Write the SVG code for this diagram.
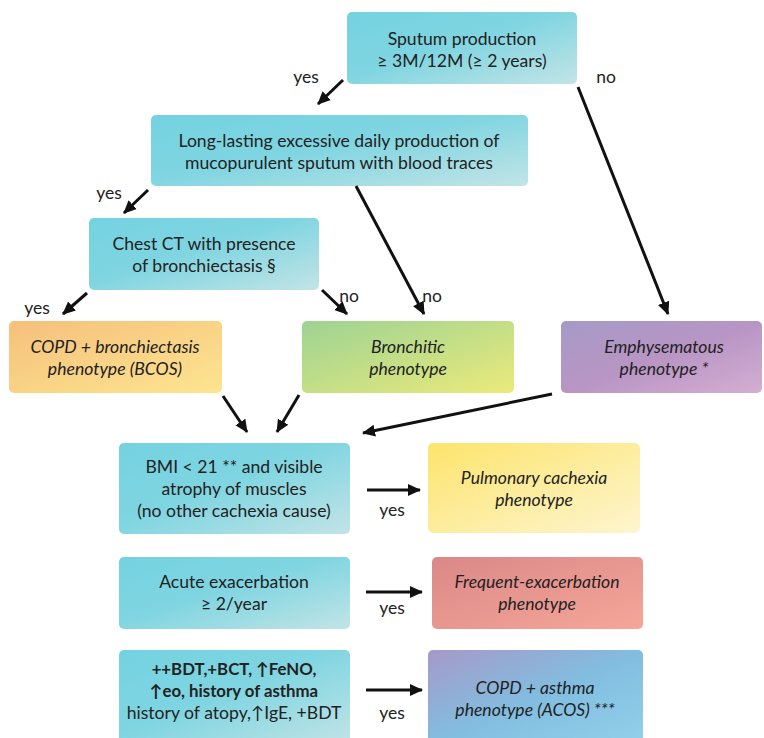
<svg xmlns="http://www.w3.org/2000/svg" width="764" height="738" viewBox="0 0 764 738">
<style>
.t{font-family:Lato,"Open Sans","Liberation Sans",sans-serif;font-size:17.6px;fill:#222;text-anchor:middle}
.i{font-style:italic}
.b{font-weight:bold;font-size:16.8px}
.lbl{font-family:Lato,"Open Sans","Liberation Sans",sans-serif;font-size:17.5px;fill:#222;text-anchor:middle}
.c{stroke:#111;stroke-width:3;fill:none;marker-end:url(#ah)}
</style>
<defs>
<marker id="ah" markerUnits="userSpaceOnUse" markerWidth="14" markerHeight="14" refX="12" refY="7" orient="auto">
<path d="M0,1 L13,7 L0,13 Z" fill="#111"/>
</marker>
<linearGradient id="gTeal" x1="0" y1="0" x2="1" y2="1"><stop offset="0" stop-color="#74d2e0"/><stop offset="0.45" stop-color="#7fd5e1"/><stop offset="1" stop-color="#c2e4e6"/></linearGradient>
<linearGradient id="gOrange" x1="0" y1="0" x2="1" y2="1"><stop offset="0" stop-color="#f5c07c"/><stop offset="1" stop-color="#fde590"/></linearGradient>
<linearGradient id="gGreen" x1="0" y1="0" x2="1" y2="1"><stop offset="0" stop-color="#9dd393"/><stop offset="1" stop-color="#ebea7a"/></linearGradient>
<linearGradient id="gPurple" x1="0" y1="0" x2="1" y2="1"><stop offset="0" stop-color="#a69ac6"/><stop offset="0.5" stop-color="#b895c4"/><stop offset="1" stop-color="#d4aed2"/></linearGradient>
<linearGradient id="gYellow" x1="0" y1="0" x2="1" y2="1"><stop offset="0" stop-color="#fde46c"/><stop offset="1" stop-color="#fdf5cf"/></linearGradient>
<linearGradient id="gRed" x1="0" y1="0" x2="1" y2="1"><stop offset="0" stop-color="#da8888"/><stop offset="1" stop-color="#f6a698"/></linearGradient>
<linearGradient id="gAcos" x1="0" y1="0" x2="1" y2="1"><stop offset="0" stop-color="#a699c8"/><stop offset="0.5" stop-color="#82bde0"/><stop offset="1" stop-color="#92d0ea"/></linearGradient>
</defs>

<g id="n-sputum">
<rect x="347" y="12" width="230" height="72" rx="5" fill="url(#gTeal)"/>
<text class="t" x="462" y="45">Sputum production</text>
<text class="t" x="462" y="67">≥ 3M/12M (≥ 2 years)</text>
</g>
<g id="n-longlasting">
<rect x="151" y="115" width="377" height="71" rx="5" fill="url(#gTeal)"/>
<text class="t" x="339" y="147">Long-lasting excessive daily production of</text>
<text class="t" x="339" y="169">mucopurulent sputum with blood traces</text>
</g>
<g id="n-chestct">
<rect x="89" y="218" width="230" height="72" rx="5" fill="url(#gTeal)"/>
<text class="t" x="204" y="250">Chest CT with presence</text>
<text class="t" x="204" y="272">of bronchiectasis §</text>
</g>
<g id="n-bcos">
<rect x="9" y="321" width="213" height="72" rx="5" fill="url(#gOrange)"/>
<text class="t i" x="115" y="353">COPD + bronchiectasis</text>
<text class="t i" x="115" y="375">phenotype (BCOS)</text>
</g>
<g id="n-bronchitic">
<rect x="302" y="321" width="212" height="72" rx="5" fill="url(#gGreen)"/>
<text class="t i" x="408" y="353">Bronchitic</text>
<text class="t i" x="408" y="375">phenotype</text>
</g>
<g id="n-emphysematous">
<rect x="561" y="321" width="201" height="72" rx="5" fill="url(#gPurple)"/>
<text class="t i" x="664" y="353">Emphysematous</text>
<text class="t i" x="664" y="375">phenotype *</text>
</g>
<g id="n-bmi">
<rect x="119" y="443" width="231" height="91" rx="5" fill="url(#gTeal)"/>
<text class="t" x="234" y="473">BMI &lt; 21 ** and visible</text>
<text class="t" x="234" y="495">atrophy of muscles</text>
<text class="t" x="234" y="517">(no other cachexia cause)</text>
</g>
<g id="n-cachexia">
<rect x="428" y="443" width="212" height="90" rx="5" fill="url(#gYellow)"/>
<text class="t i" x="534" y="484">Pulmonary cachexia</text>
<text class="t i" x="534" y="506">phenotype</text>
</g>
<g id="n-acute">
<rect x="119" y="557" width="231" height="72" rx="5" fill="url(#gTeal)"/>
<text class="t" x="234" y="588">Acute exacerbation</text>
<text class="t" x="234" y="610">≥ 2/year</text>
</g>
<g id="n-frequent">
<rect x="432" y="557" width="211" height="72" rx="5" fill="url(#gRed)"/>
<text class="t i" x="537" y="588">Frequent-exacerbation</text>
<text class="t i" x="537" y="610">phenotype</text>
</g>
<g id="n-asthma-criteria">
<rect x="119" y="650" width="231" height="95" rx="5" fill="url(#gTeal)"/>
<text class="t b" x="234" y="675">++BDT,+BCT, ↑FeNO,</text>
<text class="t b" x="234" y="697">↑eo, history of asthma</text>
<text class="t" x="234" y="719">history of atopy,↑IgE, +BDT</text>
</g>
<g id="n-acos">
<rect x="428" y="650" width="215" height="95" rx="5" fill="url(#gAcos)"/>
<text class="t i" x="535" y="694">COPD + asthma</text>
<text class="t i" x="535" y="716">phenotype (ACOS) ***</text>
</g>

<g id="connectors">
<line class="c" x1="343" y1="80" x2="318" y2="104"/>
<line class="c" x1="578" y1="87" x2="668" y2="314"/>
<line class="c" x1="148" y1="190" x2="124" y2="213"/>
<line class="c" x1="87" y1="293" x2="63" y2="314"/>
<line class="c" x1="322" y1="290" x2="347" y2="314"/>
<line class="c" x1="356" y1="186" x2="424" y2="314"/>
<line class="c" x1="223" y1="396" x2="247" y2="432"/>
<line class="c" x1="299" y1="395" x2="277" y2="432"/>
<line class="c" x1="552" y1="394" x2="363" y2="433"/>
<line class="c" x1="367" y1="490" x2="420" y2="490"/>
<line class="c" x1="366" y1="592" x2="422" y2="592"/>
<line class="c" x1="366" y1="690" x2="422" y2="690"/>
<text class="lbl" x="306" y="83">yes</text>
<text class="lbl" x="606" y="83">no</text>
<text class="lbl" x="109" y="199">yes</text>
<text class="lbl" x="37" y="314">yes</text>
<text class="lbl" x="349" y="302">no</text>
<text class="lbl" x="432" y="302">no</text>
<text class="lbl" x="392" y="516">yes</text>
<text class="lbl" x="392" y="614">yes</text>
<text class="lbl" x="392" y="719">yes</text>
</g>
</svg>
